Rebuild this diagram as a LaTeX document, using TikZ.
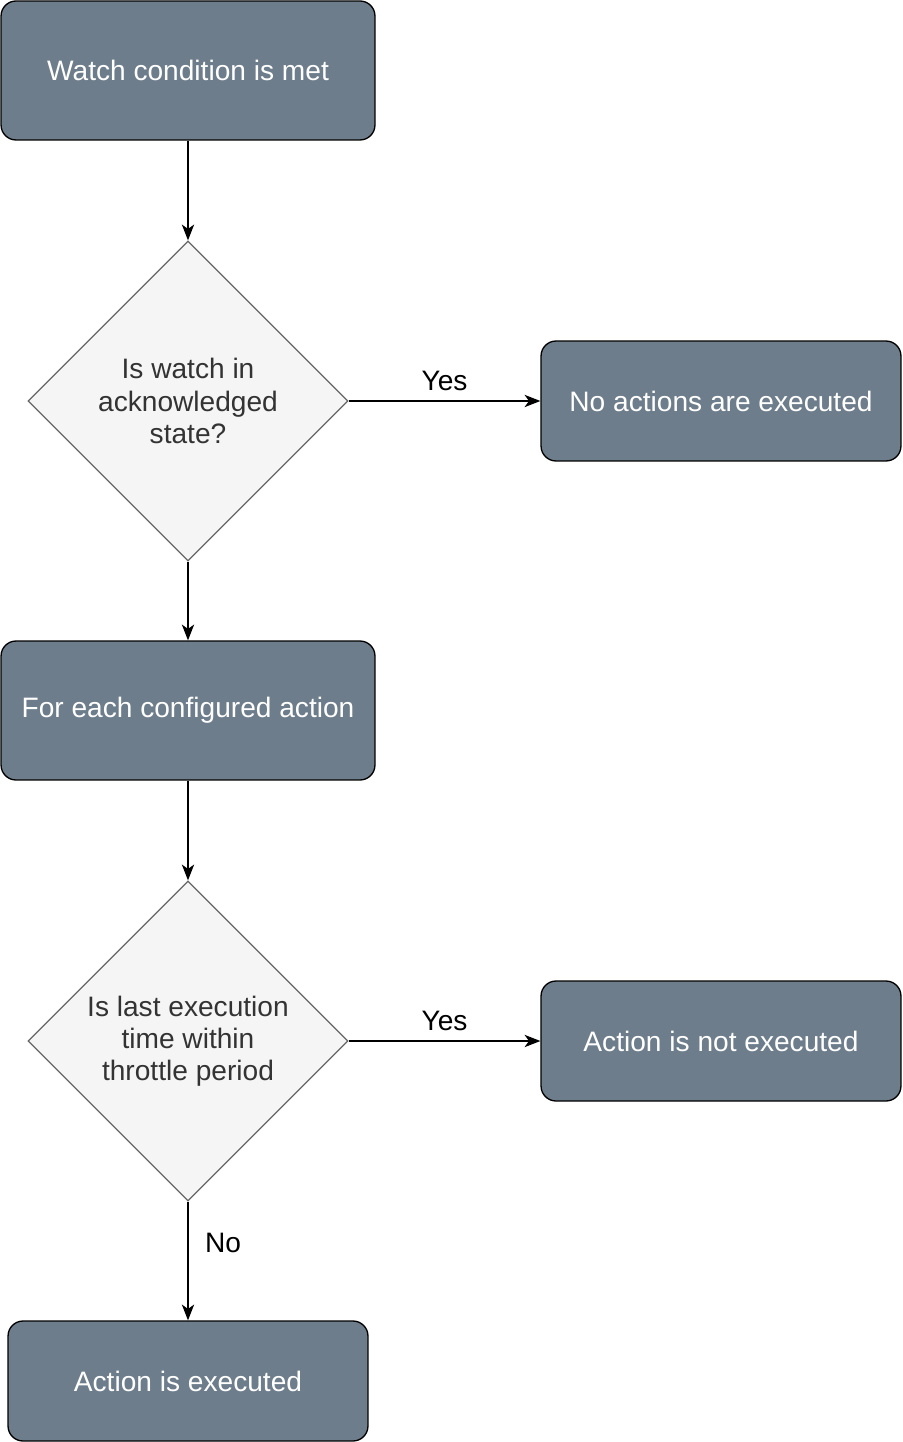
\documentclass[tikz,border=0pt]{standalone}
\usepackage{fontspec}
\setmainfont{Liberation Sans}
\usepackage{tikz}
\usetikzlibrary{shapes.geometric,arrows.meta,positioning}
\definecolor{slate}{HTML}{6D7D8B}
\definecolor{pale}{HTML}{F5F5F5}
\definecolor{edgegray}{HTML}{666666}
\definecolor{darktext}{HTML}{333333}

\tikzset{
	stepbox/.style={draw=black,line width=0.75pt,fill=slate,rounded corners=0.3cm,
		text=white,align=center,inner sep=0pt},
	check/.style={diamond,draw=edgegray,line width=0.75pt,fill=pale,aspect=1,
		minimum width=6.4cm,minimum height=6.4cm,inner sep=0pt,text=darktext,align=center},
	flow/.style={-{Stealth[length=9pt,width=7pt,inset=2.5pt]},line width=0.75pt},
	lbl/.style={text=black}
}

\begin{document}
\begin{tikzpicture}[x=0.02cm,y=-0.02cm,font=\fontsize{16}{18.3}\selectfont]
		\useasboundingbox (0,0) rectangle (902,1442);
		% left column
		\node[stepbox,minimum width=7.48cm,minimum height=2.78cm] (start) at (188,70.5) {Watch condition is met};
		\node[check] (acked) at (188,401) {Is watch in\\acknowledged\\state?};
		\node[stepbox,minimum width=7.48cm,minimum height=2.78cm] (foreach) at (188,710.5) {For each configured action};
		\node[check] (throttle) at (188,1041) {Is last execution\\time within\\ throttle period};
		\node[stepbox,minimum width=7.2cm,minimum height=2.4cm] (exec) at (188,1381) {Action is executed};
		% right column
		\node[stepbox,minimum width=7.2cm,minimum height=2.4cm] (noact) at (721,401) {No actions are executed};
		\node[stepbox,minimum width=7.2cm,minimum height=2.4cm] (notexec) at (721,1041) {Action is not executed};
		% connectors
		\draw[flow] (start) -- (acked);
		\draw[flow] (acked) -- (foreach);
		\draw[flow] (foreach) -- (throttle);
		\draw[flow] (acked) -- node[lbl,above=2pt] {Yes} (noact);
		\draw[flow] (throttle) -- node[lbl,above=2pt] {Yes} (notexec);
		\draw[flow] (throttle) -- node[lbl,right=6pt,pos=0.35] {No} (exec);
	\end{tikzpicture}
\end{document}
